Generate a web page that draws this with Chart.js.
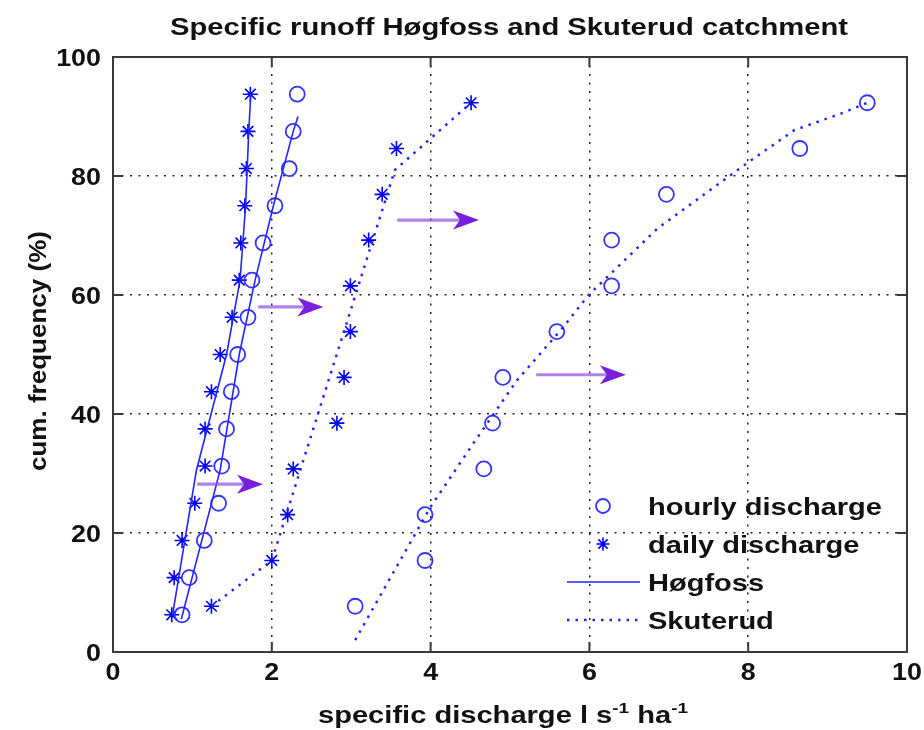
<!DOCTYPE html>
<html><head><meta charset="utf-8">
<script src="https://cdn.jsdelivr.net/npm/chart.js@4.4.1/dist/chart.umd.min.js"></script>
<style>html,body{margin:0;padding:0;background:#fff;}#wrap{width:924px;height:730px;}</style>
</head><body><div id="wrap"><canvas id="c" width="924" height="730"></canvas></div>
<script>
// ---- text ----
const titleText = 'Specific runoff Høgfoss and Skuterud catchment';
const yTitleText = 'cum. frequency (%)';
const xTitleParts = [['specific discharge l s', false], ['-1', true], [' ha', false], ['-1', true]];
const legendLabels = ['hourly discharge', 'daily discharge', 'Høgfoss', 'Skuterud'];
// ---- tick labels ----
const xTicks = [0, 2, 4, 6, 8, 10];
const yTicks = [0, 20, 40, 60, 80, 100];
// ---- Høgfoss data (cumulative frequency %, specific discharge) ----
const hogFreq = [6.25, 12.5, 18.75, 25, 31.25, 37.5, 43.75, 50, 56.25, 62.5, 68.75, 75, 81.25, 87.5, 93.75];
const hogHourly = [0.87, 0.96, 1.15, 1.33, 1.37, 1.43, 1.49, 1.57, 1.70, 1.75, 1.89, 2.04, 2.22, 2.27, 2.32];
const hogDaily = [0.74, 0.77, 0.87, 1.03, 1.16, 1.16, 1.24, 1.35, 1.50, 1.59, 1.61, 1.66, 1.68, 1.70, 1.73];
const hogHourlyFitX = [0.86, 1.35, 1.59, 1.79, 2.02, 2.27, 2.33];
const hogHourlyFitY = [5.5, 30.6, 50, 62.5, 75, 87.5, 90];
const hogDailyFitX = [0.75, 1.05, 1.43, 1.60, 1.67, 1.71, 1.735];
const hogDailyFitY = [6.25, 30.5, 50, 62.5, 75, 87.5, 93.75];
// ---- Skuterud data ----
const skuFreq = [7.69, 15.38, 23.08, 30.77, 38.46, 46.15, 53.85, 61.54, 69.23, 76.92, 84.62, 92.31];
const skuHourly = [3.05, 3.93, 3.93, 4.67, 4.78, 4.91, 5.59, 6.28, 6.28, 6.97, 8.65, 9.50];
const skuDaily = [1.24, 2.00, 2.20, 2.27, 2.82, 2.91, 2.99, 2.99, 3.22, 3.39, 3.57, 4.51];
const skuHourlyFitX = [3.05, 3.43, 4.00, 4.54, 5.09, 5.64, 5.99, 6.86, 7.66, 7.99, 8.58, 9.17, 9.50];
const skuHourlyFitY = [2, 11, 24.4, 35.1, 45.7, 54.1, 60, 71.2, 79, 82.2, 87.7, 90.5, 92.3];
const skuDailyFitX = [1.24, 2.00, 3.55, 4.51];
const skuDailyFitY = [7.69, 15.38, 81, 92.31];
// ---- annotation arrows ----
const arrowX0 = [1.06, 1.83, 3.58, 5.33];
const arrowX1 = [1.89, 2.65, 4.61, 6.46];
const arrowY = [28.2, 58.0, 72.6, 46.6];

const pts = (xs, ys) => xs.map((x, i) => ({x: x, y: ys[i]}));
const CIRC = '#3434ff', STAR = '#0000f0', LINE = '#2424ff';
const FONT = '"Liberation Sans", Arial, sans-serif';

function drawText(ctx, str, x, y, font, sx, align) {
  ctx.save();
  ctx.font = font;
  const w = ctx.measureText(str).width * sx;
  let x0 = x;
  if (align === 'center') x0 = x - w / 2; else if (align === 'right') x0 = x - w;
  ctx.translate(x0, y);
  ctx.scale(sx, 1);
  ctx.textAlign = 'left';
  ctx.fillText(str, 0, 0);
  ctx.restore();
  return w;
}
function fitScale(ctx, str, font, target) {
  ctx.save(); ctx.font = font; const w = ctx.measureText(str).width; ctx.restore();
  return target / w;
}

const deco = {
  id: 'deco',
  afterDraw(chart) {
    const ctx = chart.ctx, a = chart.chartArea;
    const xs = chart.scales.x, ys = chart.scales.y;
    ctx.save();
    // box
    ctx.strokeStyle = '#3a3a3a'; ctx.lineWidth = 2;
    ctx.strokeRect(a.left, a.top, a.right - a.left, a.bottom - a.top);
    // inward ticks
    ctx.lineWidth = 2;
    xTicks.forEach(v => {
      const p = xs.getPixelForValue(v);
      ctx.beginPath(); ctx.moveTo(p, a.bottom); ctx.lineTo(p, a.bottom - 10);
      ctx.moveTo(p, a.top); ctx.lineTo(p, a.top + 10); ctx.stroke();
    });
    yTicks.forEach(v => {
      const p = ys.getPixelForValue(v);
      ctx.beginPath(); ctx.moveTo(a.left, p); ctx.lineTo(a.left + 10, p);
      ctx.moveTo(a.right, p); ctx.lineTo(a.right - 10, p); ctx.stroke();
    });
    // tick labels
    ctx.fillStyle = '#111';
    const tf = 'bold 24px ' + FONT;
    ctx.textBaseline = 'alphabetic';
    xTicks.forEach(v => drawText(ctx, String(v), xs.getPixelForValue(v), a.bottom + 28, tf, 1.12, 'center'));
    yTicks.forEach(v => drawText(ctx, String(v), a.left - 12, ys.getPixelForValue(v) + 9, tf, 1.12, 'right'));
    // title
    const titleFont = 'bold 23px ' + FONT;
    drawText(ctx, titleText, 509, 35, titleFont, fitScale(ctx, titleText, titleFont, 678), 'center');
    // y title
    ctx.save();
    ctx.translate(46, 351); ctx.rotate(-Math.PI / 2);
    const ytf = 'bold 23px ' + FONT;
    drawText(ctx, yTitleText, 0, 0, ytf, fitScale(ctx, yTitleText, ytf, 240), 'center');
    ctx.restore();
    // x title with superscripts
    const mainF = 'bold 23px ' + FONT, supF = 'bold 15px ' + FONT;
    let total = 0;
    xTitleParts.forEach(([s, sup]) => { ctx.font = sup ? supF : mainF; total += ctx.measureText(s).width; });
    const sxx = 370 / total;
    let cx = 503 - 370 / 2;
    xTitleParts.forEach(([s, sup]) => {
      cx += drawText(ctx, s, cx, sup ? 713 : 723, sup ? supF : mainF, sxx, 'left');
    });
    // arrows
    for (let i = 0; i < arrowY.length; i++) {
      const x0 = xs.getPixelForValue(arrowX0[i]), x1 = xs.getPixelForValue(arrowX1[i]);
      const y = ys.getPixelForValue(arrowY[i]);
      ctx.strokeStyle = 'rgba(150,90,225,0.75)'; ctx.lineWidth = 3.2; ctx.lineCap = 'butt';
      ctx.beginPath(); ctx.moveTo(x0, y); ctx.lineTo(x1 - 16, y); ctx.stroke();
      ctx.fillStyle = '#7a20dc';
      ctx.beginPath();
      ctx.moveTo(x1, y); ctx.lineTo(x1 - 26, y - 9.5); ctx.lineTo(x1 - 19, y);
      ctx.lineTo(x1 - 26, y + 9.5); ctx.closePath(); ctx.fill();
    }
    // legend
    const lx = 603, rows = [506, 544, 582, 620];
    ctx.strokeStyle = CIRC; ctx.lineWidth = 1.8;
    ctx.beginPath(); ctx.arc(lx, rows[0], 7, 0, Math.PI * 2); ctx.stroke();
    ctx.strokeStyle = STAR; ctx.lineWidth = 1.6;
    const r = 6.5, d = r * 0.7071;
    ctx.beginPath();
    ctx.moveTo(lx - r, rows[1]); ctx.lineTo(lx + r, rows[1]);
    ctx.moveTo(lx, rows[1] - r); ctx.lineTo(lx, rows[1] + r);
    ctx.moveTo(lx - d, rows[1] - d); ctx.lineTo(lx + d, rows[1] + d);
    ctx.moveTo(lx - d, rows[1] + d); ctx.lineTo(lx + d, rows[1] - d);
    ctx.stroke();
    ctx.strokeStyle = LINE; ctx.lineWidth = 1.6;
    ctx.beginPath(); ctx.moveTo(567, rows[2]); ctx.lineTo(640, rows[2]); ctx.stroke();
    ctx.lineWidth = 2.5; ctx.setLineDash([2.5, 6]);
    ctx.beginPath(); ctx.moveTo(567, rows[3]); ctx.lineTo(640, rows[3]); ctx.stroke();
    ctx.setLineDash([]);
    ctx.fillStyle = '#111';
    const lf = 'bold 24px ' + FONT;
    const lsx = fitScale(ctx, legendLabels[0], lf, 234);
    legendLabels.forEach((t, i) => drawText(ctx, t, 648, rows[i] + 9, lf, lsx, 'left'));
    ctx.restore();
  }
};

const scatterDS = (xs, ys, style, color, radius, bw) => ({
  data: pts(xs, ys), showLine: false, pointStyle: style, pointRadius: radius,
  pointBorderColor: color, pointBackgroundColor: 'rgba(0,0,0,0)', pointBorderWidth: bw, borderColor: color
});
const lineDS = (xs, ys, dash, width) => ({
  data: pts(xs, ys), showLine: true, pointRadius: 0, borderColor: LINE, borderWidth: width,
  borderDash: dash, fill: false, tension: 0
});

new Chart(document.getElementById('c'), {
  type: 'scatter',
  data: {
    datasets: [
      lineDS(hogHourlyFitX, hogHourlyFitY, [], 1.6),
      lineDS(hogDailyFitX, hogDailyFitY, [], 1.6),
      lineDS(skuHourlyFitX, skuHourlyFitY, [2.5, 6], 2.5),
      lineDS(skuDailyFitX, skuDailyFitY, [2.5, 6], 2.5),
      scatterDS(hogHourly, hogFreq, 'circle', CIRC, 7.5, 1.8),
      scatterDS(hogDaily, hogFreq, 'star', STAR, 7.5, 1.6),
      scatterDS(skuHourly, skuFreq, 'circle', CIRC, 7.5, 1.8),
      scatterDS(skuDaily, skuFreq, 'star', STAR, 7.5, 1.6)
    ]
  },
  options: {
    responsive: false, animation: false, events: [],
    layout: {padding: {left: 0, top: 57, right: 17, bottom: 0}},
    plugins: {legend: {display: false}, tooltip: {enabled: false}, title: {display: false}},
    scales: {
      x: {
        type: 'linear', min: 0, max: 10,
        ticks: {display: false},
        afterBuildTicks: s => { s.ticks = xTicks.map(v => ({value: v})); },
        grid: {color: '#222', lineWidth: 1.5, drawTicks: false},
        border: {display: false, dash: [2, 6.5]},
        afterFit: s => { s.height = 78; }
      },
      y: {
        type: 'linear', min: 0, max: 100,
        ticks: {display: false},
        afterBuildTicks: s => { s.ticks = yTicks.map(v => ({value: v})); },
        grid: {color: '#222', lineWidth: 1.5, drawTicks: false},
        border: {display: false, dash: [2, 6.5]},
        afterFit: s => { s.width = 113; }
      }
    }
  },
  plugins: [deco]
});
</script></body></html>
